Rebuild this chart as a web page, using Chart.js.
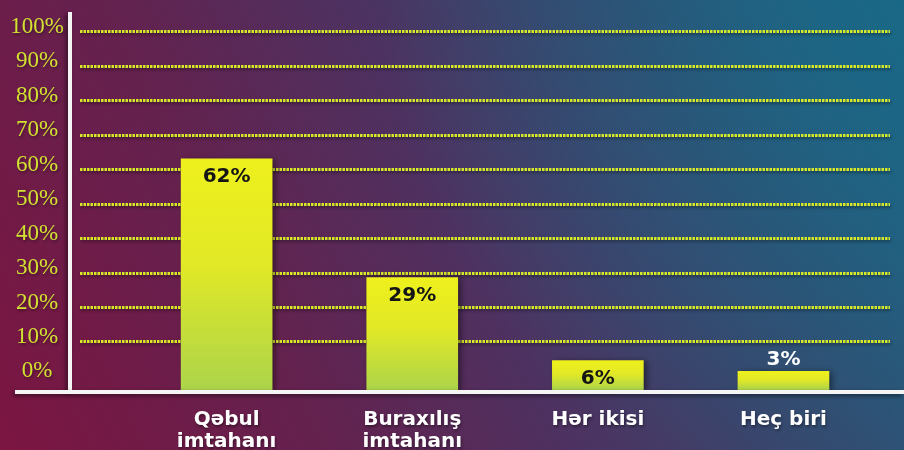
<!DOCTYPE html>
<html>
<head>
<meta charset="utf-8">
<script src="https://cdn.jsdelivr.net/npm/chart.js@4"></script>
<style>
  html, body { margin: 0; padding: 0; }
  #wrap { width: 904px; height: 450px; }
</style>
</head>
<body>
<div id="wrap"><canvas id="chart"></canvas></div>
<script>
// data
const categories = [["Qəbul", "imtahanı"], ["Buraxılış", "imtahanı"], ["Hər ikisi"], ["Heç biri"]];
const percents = [62, 29, 6, 3];
const yTickValues = [0, 10, 20, 30, 40, 50, 60, 70, 80, 90, 100];

const BAR_BASE = -2.2;

// gradient background + sombra para grade e textos
const bgPlugin = {
    id: "bg",
    beforeDraw(chart) {
        const { ctx, width, height } = chart;
        ctx.save();
        const g = ctx.createLinearGradient(0, height, width, 0);
        g.addColorStop(0, "#7c1541");
        g.addColorStop(0.3, "#63224f");
        g.addColorStop(0.5, "#4e3160");
        g.addColorStop(0.75, "#35496e");
        g.addColorStop(1, "#1d6685");
        ctx.fillStyle = g;
        ctx.fillRect(0, 0, width, height);
        const r = ctx.createRadialGradient(width, 0, 0, width, 0, 520);
        r.addColorStop(0, "rgba(25,105,135,0.8)");
        r.addColorStop(1, "rgba(25,105,135,0)");
        ctx.fillStyle = r;
        ctx.fillRect(0, 0, width, height);
        ctx.shadowColor = "rgba(0,0,0,0.4)";
        ctx.shadowBlur = 3;
        ctx.shadowOffsetX = 1;
        ctx.shadowOffsetY = 2;
    },
    afterDraw(chart) {
        chart.ctx.restore();
    }
};

// shadow on bars, white axis lines, value labels
const decoPlugin = {
    id: "deco",
    beforeDatasetsDraw(chart) {
        const ctx = chart.ctx;
        ctx.save();
        ctx.shadowColor = "rgba(0,0,0,0.45)";
        ctx.shadowBlur = 6;
        ctx.shadowOffsetX = 3;
        ctx.shadowOffsetY = 1;
    },
    afterDatasetsDraw(chart) {
        const ctx = chart.ctx;
        ctx.restore();
        const area = chart.chartArea;

        // axis lines
        ctx.save();
        ctx.shadowColor = "rgba(0,0,0,0.5)";
        ctx.shadowBlur = 4;
        ctx.shadowOffsetX = -2;
        ctx.shadowOffsetY = 2;
        ctx.strokeStyle = "#f5f5f5";
        ctx.lineWidth = 4;
        ctx.beginPath();
        ctx.moveTo(area.left - 10, area.top);
        ctx.lineTo(area.left - 10, area.bottom + 2);
        ctx.stroke();
        ctx.beginPath();
        ctx.moveTo(15, area.bottom + 2);
        ctx.lineTo(chart.width, area.bottom + 2);
        ctx.stroke();
        ctx.restore();

        // value labels
        const meta = chart.getDatasetMeta(0);
        ctx.save();
        ctx.shadowColor = "rgba(0,0,0,0)";
        ctx.font = "bold 20px 'DejaVu Sans'";
        ctx.textAlign = "center";
        ctx.textBaseline = "middle";
        meta.data.forEach((bar, i) => {
            const h = bar.base - bar.y;
            const txt = percents[i] + "%";
            if (h > 25) {
                ctx.fillStyle = "#151515";
                ctx.fillText(txt, bar.x, bar.y + 18);
            } else {
                ctx.fillStyle = "#ffffff";
                ctx.fillText(txt, bar.x, bar.y - 11);
            }
        });
        ctx.restore();
    }
};

const ctx = document.getElementById("chart");

new Chart(ctx, {
    type: "bar",
    data: {
        datasets: [
            {
                data: percents.map((v, i) => ({ x: i, y: v })),
                yAxisID: "y2",
                base: BAR_BASE,
                barThickness: 91,
                // degrade amarelo -> verde em cada barra
                backgroundColor: (c) => {
                    const s = c.chart.scales.y2;
                    if (!s || !c.raw) return "#e4ea22";
                    const top = s.getPixelForValue(c.raw.y);
                    const bot = s.getPixelForValue(BAR_BASE);
                    if (!isFinite(top) || !isFinite(bot) || bot <= top) return "#e4ea22";
                    const g = c.chart.ctx.createLinearGradient(0, top, 0, bot);
                    g.addColorStop(0, "#eef01c");
                    g.addColorStop(0.45, "#e2e926");
                    g.addColorStop(1, "#acd44a");
                    return g;
                },
                borderWidth: 0
            }
        ]
    },
    options: {
        responsive: true,
        maintainAspectRatio: false,
        animation: false,
        layout: { padding: { top: 12, right: 14, left: 0, bottom: 0 } },
        plugins: {
            legend: { display: false },
            tooltip: { enabled: false }
        },
        scales: {
            x: {
                type: "linear",
                position: "bottom",
                offset: false,
                min: -0.79,
                max: 3.574,
                afterBuildTicks: (s) => { s.ticks = categories.map((c, i) => ({ value: i })); },
                afterFit: (s) => { s.height = 60; s.paddingLeft = 0; s.paddingRight = 0; },
                ticks: {
                    callback: (v) => categories[v],
                    color: "#ffffff",
                    font: { family: "DejaVu Sans", weight: "bold", size: 20, lineHeight: 1.1 },
                    padding: 19,
                    maxRotation: 0,
                    autoSkip: false
                },
                grid: { display: false, drawTicks: false, offset: false },
                border: { display: false }
            },
            y: {
                type: "linear",
                position: "left",
                min: -3.95,
                max: 105.8,
                afterBuildTicks: (s) => { s.ticks = yTickValues.map((v) => ({ value: v })); },
                afterFit: (s) => { s.width = 80; s.paddingTop = 0; s.paddingBottom = 0; },
                ticks: {
                    callback: (v) => v + "%",
                    color: "#d2e232",
                    font: { family: "Liberation Serif", size: 23 },
                    padding: 16,
                    crossAlign: "center",
                    labelOffset: -5
                },
                grid: {
                    color: (c) => (c.tick && c.tick.value === 0 ? "rgba(0,0,0,0)" : "#d6e82a"),
                    lineWidth: 3,
                    drawTicks: false
                },
                border: { display: false, dash: [2.5, 1] }
            },
            y2: {
                type: "linear",
                display: false,
                min: BAR_BASE,
                max: 102.8
            }
        }
    },
    plugins: [bgPlugin, decoPlugin]
});
</script>
</body>
</html>
